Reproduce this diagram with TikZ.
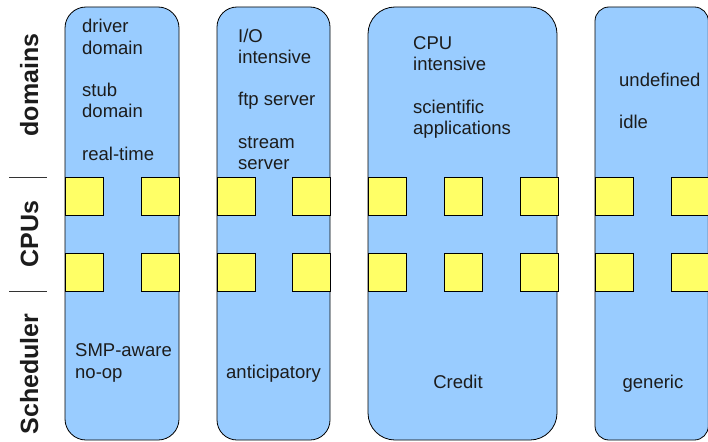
\documentclass[tikz,border=0pt]{standalone}
\usepackage{fontspec}
\setmainfont{Liberation Sans}
\definecolor{poolblue}{HTML}{99CCFF}
\definecolor{cpuyellow}{HTML}{FFFF66}
\definecolor{txtgray}{HTML}{1C1C1C}

\begin{document}
\begin{tikzpicture}[x=1pt, y=-1pt,
        pool/.style={draw=black, fill=poolblue, line width=0.8pt},
        cpu/.style={draw=black, fill=cpuyellow, line width=0.8pt},
        lbl/.style={text=txtgray, font=\fontsize{18.5}{21.2}\selectfont, align=left, inner sep=0pt},
        rowlbl/.style={text=txtgray, font=\fontsize{25}{30}\selectfont\bfseries, rotate=90, inner sep=0pt, anchor=base}]
        \useasboundingbox (0,0) rectangle (708,441);
        % pools
        \draw [pool, rounded corners=21] (65,7) rectangle (179,440);
        \draw [pool, rounded corners=20] (217,7) rectangle (330,440);
        \draw [pool, rounded corners=27] (368,7) rectangle (557,440);
        \draw [pool, rounded corners=14] (595,7) rectangle (708.3,440);
        % CPUs
        \foreach \x in {65,141,217,292,368,444,520,595,671} {
            \draw [cpu] (\x,177) rectangle ++(38,38);
            \draw [cpu] (\x,253) rectangle ++(38,38);
        }
        % row labels
        \draw [line width=0.6pt, black!80] (9,177) -- (47,177);
        \draw [line width=0.6pt, black!80] (9,291) -- (47,291);
        \node [rowlbl] (domains) at (38,85) {domains};
        \node [rowlbl] (cpus) at (38,234) {CPUs};
        \node [rowlbl] (sched) at (38,374) {Scheduler};
        % domains (anchored at the baseline of the last line)
        \node [lbl, anchor=base west] (dom1) at (82,160) {driver\\domain\\[21.2pt]stub\\domain\\[21.2pt]real-time};
        \node [lbl, anchor=base west] (dom2) at (238,169.5) {I/O\\intensive\\[21.2pt]ftp server\\[21.2pt]stream\\server};
        \node [lbl, anchor=base west] (dom3) at (413,134.5) {CPU\\intensive\\[21.2pt]scientific\\applications};
        \node [lbl, anchor=base west] (dom4) at (619,128.5) {undefined\\[21.2pt]idle};
        % schedulers
        \node [lbl, anchor=base west] (sch1) at (75,378) {SMP-aware\\no-op};
        \node [lbl, anchor=base] (sch2) at (273.5,378) {anticipatory};
        \node [lbl, anchor=base] (sch3) at (458,388) {Credit};
        \node [lbl, anchor=base] (sch4) at (653,388) {generic};
\end{tikzpicture}
\end{document}
